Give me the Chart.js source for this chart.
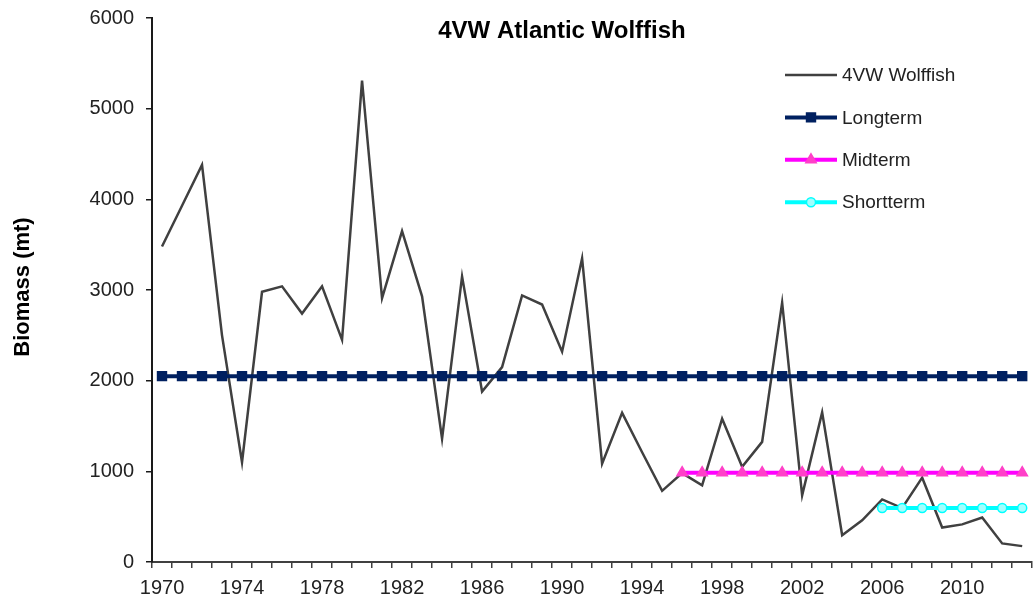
<!DOCTYPE html>
<html>
<head>
<meta charset="utf-8">
<title>4VW Atlantic Wolffish</title>
<script src="https://cdn.jsdelivr.net/npm/chart.js@4/dist/chart.umd.min.js"></script>
<style>
  html, body { margin: 0; padding: 0; background: #fff; overflow: hidden; }
  #wrap { width: 1040px; height: 597px; }
</style>
</head>
<body>
<div id="wrap"><canvas id="chart" width="1040" height="597"></canvas></div>
<script>
// Survey years
const years = [
  1970, 1971, 1972, 1973, 1974, 1975, 1976, 1977, 1978, 1979,
  1980, 1981, 1982, 1983, 1984, 1985, 1986, 1987, 1988, 1989,
  1990, 1991, 1992, 1993, 1994, 1995, 1996, 1997, 1998, 1999,
  2000, 2001, 2002, 2003, 2004, 2005, 2006, 2007, 2008, 2009,
  2010, 2011, 2012, 2013
];

// Annual biomass index (mt)
const wolffish = [
  3480, 3930, 4380, 2500, 1100, 2980, 3040, 2740, 3040, 2450,
  5310, 2910, 3650, 2930, 1360, 3150, 1880, 2150, 2940, 2840,
  2320, 3350, 1085, 1645, 1210, 785, 980, 845, 1580, 1050,
  1325, 2860, 735, 1650, 295, 460, 690, 595, 930, 380,
  415, 490, 205, 175
];

// Long-term mean, 1970-2013
const longterm = [
  2050, 2050, 2050, 2050, 2050, 2050, 2050, 2050, 2050, 2050,
  2050, 2050, 2050, 2050, 2050, 2050, 2050, 2050, 2050, 2050,
  2050, 2050, 2050, 2050, 2050, 2050, 2050, 2050, 2050, 2050,
  2050, 2050, 2050, 2050, 2050, 2050, 2050, 2050, 2050, 2050,
  2050, 2050, 2050, 2050
];

// Mid-term mean, 1996-2013
const midterm = [
  null, null, null, null, null, null, null, null, null, null,
  null, null, null, null, null, null, null, null, null, null,
  null, null, null, null, null, null, 985, 985, 985, 985,
  985, 985, 985, 985, 985, 985, 985, 985, 985, 985,
  985, 985, 985, 985
];

// Short-term mean, 2006-2013
const shortterm = [
  null, null, null, null, null, null, null, null, null, null,
  null, null, null, null, null, null, null, null, null, null,
  null, null, null, null, null, null, null, null, null, null,
  null, null, null, null, null, null, 595, 595, 595, 595,
  595, 595, 595, 595
];

const yTicks = [0, 1000, 2000, 3000, 4000, 5000, 6000];
const labelEvery = 4;

const FONT = '"Liberation Sans", Arial, Helvetica, sans-serif';

const styles = {
  wolffish:  { line: '#404040', width: 2.5, point: false },
  longterm:  { line: '#002060', width: 4, point: 'rect', fill: '#002060', border: '#002060', radius: 6.3 },
  midterm:   { line: '#ff00ff', width: 4, point: 'triangle', fill: '#ff40c8', border: '#ff40c8', radius: 6 },
  shortterm: { line: '#00ffff', width: 4, point: 'circle', fill: '#a0ffff', border: '#00ffff', radius: 4.5 }
};

function lineDataset(label, data, st, order) {
  return {
    label: label,
    data: data,
    borderColor: st.line,
    borderWidth: st.width,
    backgroundColor: st.fill || st.line,
    pointStyle: st.point || 'circle',
    pointRadius: st.point ? st.radius : 0,
    pointHoverRadius: st.point ? st.radius : 0,
    pointBackgroundColor: st.fill || st.line,
    pointBorderColor: st.border || st.line,
    pointBorderWidth: 1.5,
    tension: 0,
    spanGaps: false,
    fill: false,
    order: order
  };
}

// Title and rotated axis title drawn over the canvas
const annotations = {
  id: 'annotations',
  afterDraw(chart) {
    const ctx = chart.ctx;
    ctx.save();
    ctx.fillStyle = '#000';
    ctx.textAlign = 'center';
    ctx.textBaseline = 'middle';
    ctx.font = 'bold 24px ' + FONT;
    ctx.fillText('4VW Atlantic Wolffish', 562, 31);

    ctx.translate(23, 287);
    ctx.rotate(-Math.PI / 2);
    ctx.font = 'bold 22px ' + FONT;
    ctx.fillText('Biomass (mt)', 0, 0);
    ctx.restore();
  }
};

// Legend with line sample and centred marker
const lineLegend = {
  id: 'lineLegend',
  afterDraw(chart) {
    const ctx = chart.ctx;
    const x0 = 785, x1 = 837, tx = 842, y0 = 75, dy = 42.4;
    const items = [
      ['4VW Wolffish', styles.wolffish],
      ['Longterm', styles.longterm],
      ['Midterm', styles.midterm],
      ['Shortterm', styles.shortterm]
    ];
    ctx.save();
    items.forEach((it, i) => {
      const y = y0 + i * dy;
      const st = it[1];
      ctx.strokeStyle = st.line;
      ctx.lineWidth = st.width;
      ctx.lineCap = 'butt';
      ctx.beginPath();
      ctx.moveTo(x0, y);
      ctx.lineTo(x1, y);
      ctx.stroke();
      if (st.point) {
        ctx.fillStyle = st.fill;
        ctx.strokeStyle = st.border;
        ctx.lineWidth = 1.5;
        Chart.helpers.drawPoint(ctx, { pointStyle: st.point, rotation: 0, borderWidth: 1.5, radius: st.radius }, (x0 + x1) / 2, y);
      }
      ctx.fillStyle = '#222';
      ctx.font = '19px ' + FONT;
      ctx.textAlign = 'left';
      ctx.textBaseline = 'middle';
      ctx.fillText(it[0], tx, y + 1);
    });
    ctx.restore();
  }
};

function noScalePadding(scale) {
  scale.paddingTop = 0;
  scale.paddingBottom = 0;
  scale.paddingLeft = 0;
  scale.paddingRight = 0;
}

new Chart(document.getElementById('chart'), {
  type: 'line',
  data: {
    labels: years,
    datasets: [
      lineDataset('4VW Wolffish', wolffish, styles.wolffish, 4),
      lineDataset('Longterm', longterm, styles.longterm, 3),
      lineDataset('Midterm', midterm, styles.midterm, 2),
      lineDataset('Shortterm', shortterm, styles.shortterm, 1)
    ]
  },
  options: {
    responsive: false,
    animation: false,
    devicePixelRatio: 1,
    layout: { padding: { left: 0, top: 18, right: 3, bottom: 0 } },
    plugins: {
      legend: { display: false },
      title: { display: false },
      tooltip: { enabled: false }
    },
    scales: {
      x: {
        type: 'category',
        offset: true,
        grid: {
          offset: true,
          drawOnChartArea: false,
          drawTicks: true,
          tickLength: 6,
          color: '#404040',
          lineWidth: 1.5
        },
        border: { display: true, color: '#404040', width: 2 },
        ticks: {
          autoSkip: false,
          maxRotation: 0,
          minRotation: 0,
          padding: 8,
          color: '#222',
          font: { family: FONT, size: 20 },
          callback: function (value, index) {
            const y = years[index];
            return (y - years[0]) % labelEvery === 0 ? String(y) : '';
          }
        },
        afterFit(scale) { scale.height = 35; noScalePadding(scale); }
      },
      y: {
        min: yTicks[0],
        max: yTicks[yTicks.length - 1],
        afterBuildTicks(scale) { scale.ticks = yTicks.map(v => ({ value: v })); },
        grid: {
          drawOnChartArea: false,
          drawTicks: true,
          tickLength: 6,
          color: '#1a1a1a',
          lineWidth: 1.5
        },
        border: { display: true, color: '#1a1a1a', width: 2 },
        ticks: {
          padding: 12,
          color: '#222',
          font: { family: FONT, size: 20 },
          callback: v => String(v)
        },
        afterFit(scale) { scale.width = 152; noScalePadding(scale); }
      }
    }
  },
  plugins: [annotations, lineLegend]
});
</script>
</body>
</html>
